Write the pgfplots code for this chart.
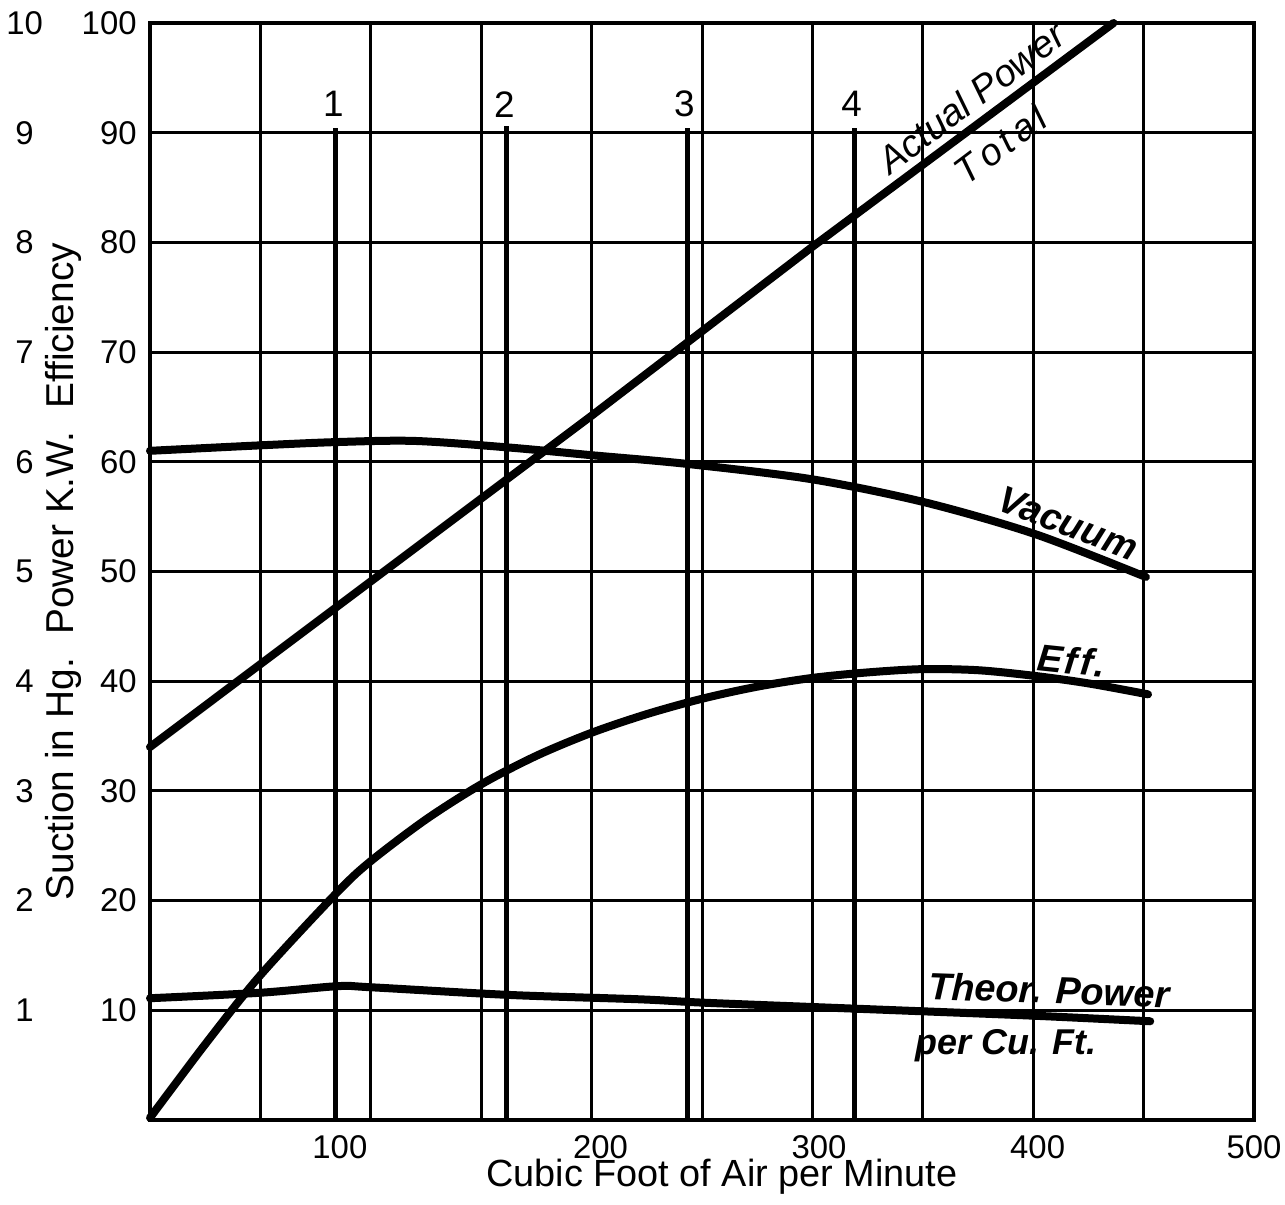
\documentclass[border=0pt]{standalone}
\usepackage{fontspec}
\setmainfont{Liberation Sans}
\usepackage{pgfplots}
\pgfplotsset{compat=1.18}
\newcommand\lab[2]{\makebox[24bp][c]{#1}\makebox[44bp][r]{#2}}
\begin{document}
\begin{tikzpicture}
\begin{axis}[
  scale only axis, width=552bp, height=548.5bp,
  xmin=0, xmax=500, ymin=0, ymax=100,
  axis line style={line width=2bp},
  xtick={0,50,...,500}, xticklabels={},
  ytick={0,10,...,100},
  yticklabels={{},{\lab{1}{10}},{\lab{2}{20}},{\lab{3}{30}},{\lab{4}{40}},{\lab{5}{50}},{\lab{6}{60}},{\lab{7}{70}},{\lab{8}{80}},{\lab{9}{90}},{\lab{10}{100}}},
  grid=major, major grid style={black, line width=1.5bp},
  major tick length=0pt,
  extra x ticks={86,204,303,402,500},
  extra x tick labels={100,200,300,400,500},
  extra x tick style={grid=none},
  /pgf/number format/assume math mode=true,
  xticklabel style={anchor=center, yshift=-13.5bp, font=\fontsize{16.5}{19}\selectfont},
  yticklabel style={anchor=east, inner sep=0pt, xshift=-6.5bp, font=\fontsize{16.5}{19}\selectfont},
  xlabel={Cubic Foot of Air per Minute},
  xlabel style={at={(axis description cs:0.518,-0.052)}, anchor=center, font=\fontsize{19}{22}\selectfont},
  ylabel={Suction in Hg.\hspace{0.6em}Power K.W.\hspace{0.6em}Efficiency},
  ylabel style={at={(axis description cs:-0.078,0.5)}, anchor=center, font=\fontsize{19.5}{22}\selectfont},
  clip=false,
]
% marker lines 1-4
\addplot[black, line width=2.5bp] coordinates {(84,0) (84,90.4)};
\addplot[black, line width=2.5bp] coordinates {(161.6,0) (161.6,90.6)};
\addplot[black, line width=2.5bp] coordinates {(243.3,0) (243.3,90.4)};
\addplot[black, line width=2.5bp] coordinates {(319,0) (319,90.4)};
% Actual power total
\addplot[black, line width=4bp, line cap=round] coordinates {(0,34.0) (100,49.1) (200,64.2) (300,79.6) (436.4,100)};
% Vacuum
\addplot[black, line width=4bp, line cap=round, smooth] coordinates {
(0,61.0) (50,61.5) (85,61.8) (120,61.9) (162.7,61.3) (200,60.6) (243.6,59.8) (300,58.4) (351,56.3) (401,53.4) (451,49.5)};
% Efficiency
\addplot[black, line width=4bp, line cap=round, smooth] coordinates {
(0,0.2) (25,6.9) (50,13.2) (85,20.8) (100,23.6) (125,27.4) (150,30.6) (175,33.2) (200,35.3) (225,37.0) (250,38.4) (275,39.5) (300,40.3) (325,40.8) (350,41.1) (375,41.0) (400,40.5) (425,39.8) (452,38.8)};
% Theoretical power per cu ft
\addplot[black, line width=4bp, line cap=round, smooth] coordinates {
(0,11.1) (50,11.6) (85,12.2) (100,12.1) (162.7,11.4) (222,11.0) (250,10.7) (300,10.3) (351,9.9) (401,9.5) (453,9.0)};
% labels
\node[font=\fontsize{18.5}{21}\selectfont] at (axis cs:83,92.6) {1};
\node[font=\fontsize{18.5}{21}\selectfont] at (axis cs:160.5,92.6) {2};
\node[font=\fontsize{18.5}{21}\selectfont] at (axis cs:242,92.6) {3};
\node[font=\fontsize{18.5}{21}\selectfont] at (axis cs:317.8,92.6) {4};
\node[rotate=37, font=\fontsize{19}{22}\selectfont\itshape] at (axis cs:372,93.2) {Actual Power};
\node[rotate=37, font=\fontsize{19}{22}\selectfont\itshape] at (axis cs:385,88.9) {T\hspace{2.5bp}o\hspace{2.5bp}t\hspace{2.5bp}a\hspace{2.5bp}l};
\node[rotate=-21, font=\fontsize{19}{22}\selectfont\itshape\bfseries] at (axis cs:415.8,54.4) {Vacuum};
\node[rotate=-6, font=\fontsize{19}{22}\selectfont\itshape\bfseries] at (axis cs:417.6,41.9) {E\hspace{1bp}f\hspace{1.5bp}f\hspace{1bp}.};
\node[rotate=-2, font=\fontsize{19}{22}\selectfont\itshape\bfseries] at (axis cs:407.2,11.85) {Theor. Power};
\node[font=\fontsize{18}{21}\selectfont\itshape\bfseries] at (axis cs:387.7,6.8) {per Cu. Ft.};
\end{axis}
\pgfresetboundingbox
\path[use as bounding box] ([shift={(-75bp,-42.5bp)}]current axis.south west) rectangle ([shift={(15.5bp,11.5bp)}]current axis.north east);
\end{tikzpicture}
\end{document}
